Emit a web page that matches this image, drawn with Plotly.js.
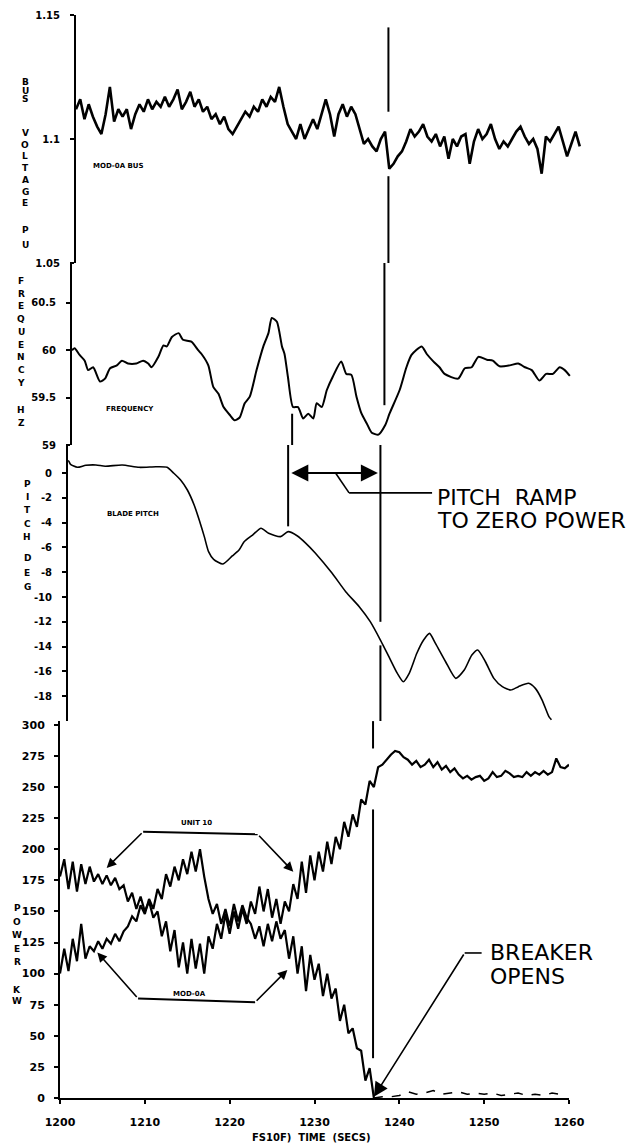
<!DOCTYPE html>
<html><head><meta charset="utf-8">
<script src="https://cdn.plot.ly/plotly-3.0.1.min.js"></script>
<style>html,body{margin:0;padding:0;background:#fff}</style>
</head><body><div id="chart" style="width:638px;height:1145px"></div>
<script>
// ================= DATA =================
// Bus voltage (PU), sampled every 0.5 s from 1200 s
const VOLT_T0 = 1200, VOLT_DT = 0.5;
const busVoltage = [
 1.112,1.116,1.108,1.114,1.109,1.105,1.102,1.110,1.121,1.107,
 1.112,1.109,1.112,1.104,1.110,1.114,1.111,1.116,1.112,1.115,
 1.113,1.117,1.113,1.116,1.120,1.112,1.115,1.119,1.113,1.116,
 1.111,1.113,1.108,1.110,1.106,1.109,1.104,1.102,1.105,1.108,
 1.111,1.109,1.113,1.111,1.116,1.113,1.117,1.115,1.121,1.113,
 1.106,1.103,1.100,1.106,1.100,1.104,1.108,1.104,1.110,1.116,
 1.110,1.101,1.110,1.114,1.109,1.113,1.110,1.104,1.098,1.100,
 1.097,1.095,1.100,1.103,1.088,1.090,1.093,1.095,1.099,1.104,
 1.101,1.103,1.106,1.101,1.099,1.102,1.097,1.101,1.092,1.100,
 1.097,1.101,1.102,1.090,1.099,1.104,1.100,1.102,1.106,1.100,
 1.096,1.099,1.097,1.100,1.103,1.105,1.101,1.098,1.100,1.096,
 1.086,1.101,1.099,1.102,1.105,1.099,1.093,1.098,1.103,1.097];

// Frequency (Hz)
const freqTime = [1200,1200.3,1200.9,1201.5,1201.9,1202.5,1203.3,1203.9,1204.5,1205.3,
 1205.9,1206.6,1207.6,1208.4,1209,1209.4,1210.2,1210.8,1211.2,1211.8,
 1212.6,1213.1,1214.1,1214.9,1215.3,1216.1,1216.7,1217.3,1217.9,1218.7,
 1219.2,1219.8,1220.4,1221,1221.8,1222.6,1223.2,1223.6,1224.2,1224.8,
 1225.1,1225.5,1226.1,1226.7,1227.3,1227.9,1228.5,1228.9,1229.5,1230.1,
 1230.8,1231.8,1232.4,1233,1233.6,1234.2,1234.8,1235.4,1236.2,1237,
 1237.5,1238.7,1239.5,1240.1,1241.3,1241.9,1242.7,1243.4,1244,1245.6,
 1246.4,1247.2,1248,1249,1249.7,1250.5,1251.7,1252.7,1253.5,1254.3,
 1255.2,1256,1256.8,1257.6,1258.2,1258.8];
const freqHz = [60.0,60.02,59.95,59.89,59.79,59.82,59.67,59.70,59.81,59.84,
 59.89,59.86,59.86,59.89,59.86,59.82,59.93,60.05,60.04,60.14,
 60.18,60.11,60.09,60.0,59.96,59.84,59.61,59.54,59.40,59.31,
 59.26,59.29,59.44,59.51,59.79,60.04,60.18,60.34,60.30,60.04,
 59.96,59.72,59.40,59.40,59.28,59.33,59.28,59.44,59.40,59.58,
 59.72,59.88,59.75,59.74,59.51,59.33,59.23,59.13,59.11,59.21,
 59.33,59.58,59.82,59.95,60.04,59.96,59.88,59.82,59.75,59.70,
 59.81,59.82,59.93,59.90,59.89,59.83,59.84,59.86,59.82,59.79,
 59.68,59.75,59.75,59.82,59.79,59.73];

// Blade pitch (deg)
const pitchTime = [1200,1200.1,1200.3,1201.1,1202.1,1203.3,1204.4,1206.4,1208.4,1210.4,
 1211.7,1212.5,1213.3,1214.1,1214.9,1215.5,1216.1,1216.6,1217.2,1218.3,
 1219.4,1220.2,1220.8,1221.8,1222.8,1223.7,1225.1,1226.0,1227.1,1228.1,
 1229.2,1231.2,1232.8,1234.4,1235.7,1236.9,1237.9,1238.9,1239.6,1240.3,
 1241.2,1242.0,1242.7,1243.4,1244.6,1245.8,1246.8,1247.7,1248.4,1249.3,
 1250.3,1251.3,1252.3,1253.2,1254.4,1255.2,1256.0,1256.8,1257.1];
const pitchDeg = [1.0,0.95,0.7,0.46,0.62,0.65,0.55,0.65,0.46,0.5,
 0.46,-0.02,-0.56,-1.37,-2.58,-3.79,-5.13,-6.34,-6.96,-7.34,
 -6.69,-6.21,-5.54,-5.0,-4.46,-4.86,-5.13,-4.73,-5.08,-5.67,
 -6.45,-8.09,-9.57,-10.78,-11.99,-13.47,-14.81,-16.16,-16.83,-16.16,
 -14.54,-13.47,-12.93,-13.74,-15.22,-16.56,-15.89,-14.68,-14.27,-15.22,
 -16.56,-17.23,-17.5,-17.23,-16.96,-17.37,-18.31,-19.65,-19.9];

// Power (kW), sampled every 0.5 s from 1200 s
const POWER_T0 = 1200, POWER_DT = 0.5;
const unit10Kw = [178,192,168,190,166,188,172,186,174,180,
 172,179,171,177,168,171,158,165,152,162,
 150,158,145,150,130,142,118,135,105,125,
 100,128,104,124,100,130,120,140,128,148,
 132,150,136,152,140,158,148,170,150,168,
 145,160,140,158,150,172,160,190,165,195,
 175,198,182,206,188,210,200,222,210,228,
 218,240,236,255,250,266,268,272,276,279,
 278,274,272,268,271,266,268,272,266,270,
 264,267,262,265,260,257,259,256,258,259,
 255,257,262,258,259,263,261,258,259,258,
 262,259,262,260,263,260,262,273,266,265,268];
const mod0aKw = [100,120,102,128,110,140,112,122,118,126,
 120,128,124,132,126,134,138,146,142,155,
 148,160,152,168,160,180,170,186,175,192,
 180,198,182,200,178,160,148,156,140,152,
 138,156,142,155,145,140,128,138,122,140,
 126,142,128,135,112,130,100,122,86,115,
 95,108,82,100,80,88,62,75,52,56,
 40,38,14,24,0];
const mod0aOpenTime = [1237,1238,1239,1240,1241,1242,1243,1244,1245,1246,1247,1248,1249,1250,1251,1252,1253,1254,1255,1256,1257,1258,1259];
const mod0aOpenKw   = [0,1,1,2,5,3,4,6,3,4,5,3,4,3,4,2,3,4,2,3,2,4,3];

// Axis ticks
const xTicks = [1200,1210,1220,1230,1240,1250,1260];
const xTickText = ['1200','1210','1220','1230','1240','1250','1260'];
const voltTicks = [1.05,1.1,1.15];
const voltTickText = ['1.05','1.1','1.15'];
const freqTicks = [59,59.5,60,60.5];
const freqTickText = ['59','59.5','60','60.5'];
const pitchTicks = [0,-2,-4,-6,-8,-10,-12,-14,-16,-18];
const pitchTickText = ['0','-2','-4','-6','-8','-10','-12','-14','-16','-18'];
const powerTicks = [0,25,50,75,100,125,150,175,200,225,250,275,300];
const powerTickText = powerTicks.map(String);

// Event times
const BREAKER_T = 1236.9;
const PITCH_RAMP_T = 1226.0;

// ================= BUILD =================
const grid = (t0, dt, n) => Array.from({length:n}, (_, i) => +(t0 + i*dt).toFixed(2));
const W = 638, H = 1145;
const px = v => v / W, py = v => 1 - v / H;
const FONT = 'DejaVu Sans';
const black = '#000';

const traces = [
  {x: grid(VOLT_T0, VOLT_DT, busVoltage.length), y: busVoltage, xaxis:'x', yaxis:'y', mode:'lines', line:{color:black, width:2.6}},
  {x: freqTime, y: freqHz, xaxis:'x2', yaxis:'y2', mode:'lines', line:{color:black, width:2, shape:'spline', smoothing:0.6}},
  {x: pitchTime, y: pitchDeg, xaxis:'x3', yaxis:'y3', mode:'lines', line:{color:black, width:1.6, shape:'spline', smoothing:0.6}},
  {x: grid(POWER_T0, POWER_DT, unit10Kw.length), y: unit10Kw, xaxis:'x4', yaxis:'y4', mode:'lines', line:{color:black, width:2.2}},
  {x: grid(POWER_T0, POWER_DT, mod0aKw.length), y: mod0aKw, xaxis:'x4', yaxis:'y4', mode:'lines', line:{color:black, width:2.2}},
  {x: mod0aOpenTime, y: mod0aOpenKw, xaxis:'x4', yaxis:'y4', mode:'lines', line:{color:black, width:1.5, dash:'dash'}}
];

const yBase = {showgrid:false, zeroline:false, showline:true, linecolor:black, linewidth:2,
  ticks:'outside', ticklen:4, tickwidth:2, tickcolor:black,
  tickfont:{family:FONT, size:10, color:black, weight:'bold'}, ticklabelstandoff:8, fixedrange:true};
const xHidden = {range:[1200,1260], visible:false, fixedrange:true};

const layout = {
  width: W, height: H, margin:{l:0,r:0,t:0,b:0},
  paper_bgcolor:'#fff', plot_bgcolor:'rgba(0,0,0,0)', showlegend:false,
  xaxis:  Object.assign({}, xHidden, {domain:[px(76), px(584)], anchor:'y'}),
  xaxis2: Object.assign({}, xHidden, {domain:[px(72), px(580)], anchor:'y2'}),
  xaxis3: Object.assign({}, xHidden, {domain:[px(68), px(576)], anchor:'y3'}),
  xaxis4: {domain:[px(60), px(569)], anchor:'y4', range:[1200,1260], showgrid:false, zeroline:false,
    showline:true, linecolor:black, linewidth:2, ticks:'outside', ticklen:4, tickwidth:2, tickcolor:black,
    tickvals:xTicks, ticktext:xTickText, tickfont:{family:FONT, size:11, color:black, weight:'bold'},
    ticklabelstandoff:9, fixedrange:true},
  yaxis:  Object.assign({}, yBase, {domain:[py(263), py(15)], range:[1.05, 1.15], anchor:'x', tickvals:voltTicks, ticktext:voltTickText}),
  yaxis2: Object.assign({}, yBase, {domain:[py(445), py(263)], range:[59, 60.92], anchor:'x2', tickvals:freqTicks, ticktext:freqTickText}),
  yaxis3: Object.assign({}, yBase, {domain:[py(721), py(445)], range:[-20, 2.26], anchor:'x3', tickvals:pitchTicks, ticktext:pitchTickText}),
  yaxis4: Object.assign({}, yBase, {domain:[py(1098), py(721)], range:[0, 303.1], anchor:'x4', tickvals:powerTicks, ticktext:powerTickText,
    tickfont:{family:FONT, size:11, color:black, weight:'bold'}, ticklabelstandoff:7}),
  shapes: [], annotations: []
};

const seg = (xr, yr, x0, y0, x1, y1, w) => ({type:'line', xref:xr, yref:yr, x0, y0, x1, y1, line:{color:black, width:w || 2}});

// Breaker-opening vertical line through all panels (with gaps at curves)
layout.shapes.push(
  seg('x','y', BREAKER_T, 1.145, BREAKER_T, 1.111),
  seg('x','y', BREAKER_T, 1.085, BREAKER_T, 1.05),
  seg('x2','y2', BREAKER_T, 60.92, BREAKER_T, 59.42),
  seg('x3','y3', BREAKER_T, 2.26, BREAKER_T, -12.0),
  seg('x3','y3', BREAKER_T, -13.9, BREAKER_T, -20),
  seg('x4','y4', BREAKER_T, 303, BREAKER_T, 281),
  seg('x4','y4', BREAKER_T, 232, BREAKER_T, 32)
);
// Pitch ramp start line
layout.shapes.push(
  seg('x2','y2', PITCH_RAMP_T, 59.33, PITCH_RAMP_T, 59.0),
  seg('x3','y3', PITCH_RAMP_T, 2.26, PITCH_RAMP_T, -4.3)
);
// Pitch ramp leader
layout.shapes.push(
  seg('x3','y3', 1231.6, 0, 1233.2, -1.6, 1.6),
  seg('x3','y3', 1233.2, -1.6, 1243.0, -1.6, 1.6)
);
// Breaker leader horizontal
layout.shapes.push(seg('x4','y4', 1247.7, 116.6, 1249.7, 116.6, 1.6));
// Brackets
layout.shapes.push(
  seg('x4','y4', 1209.8, 214, 1223.3, 212, 2),
  seg('x4','y4', 1209.2, 80, 1223.0, 77, 2)
);

const arrow = (xr, yr, x, y, ax, ay, size, extra) => Object.assign({
  xref:xr, yref:yr, axref:xr, ayref:yr, x, y, ax, ay, text:'', showarrow:true,
  arrowhead:2, arrowsize:size, arrowwidth:1.6, arrowcolor:black}, extra || {});

layout.annotations.push(
  arrow('x3','y3', BREAKER_T - 0.3, 0, PITCH_RAMP_T + 0.2, 0, 1.7, {arrowside:'end+start', startarrowhead:2, startarrowsize:1.7, arrowwidth:2}),
  arrow('x4','y4', 1237.0, 1, 1247.7, 116.6, 1.8),
  arrow('x4','y4', 1205.5, 185, 1209.8, 214, 1.2),
  arrow('x4','y4', 1227.5, 182, 1223.3, 212, 1.2),
  arrow('x4','y4', 1204.4, 117, 1209.2, 80, 1.2),
  arrow('x4','y4', 1226.8, 103, 1223.0, 77, 1.2)
);

const txt = (xr, yr, x, y, text, size, extra) => Object.assign({
  xref:xr, yref:yr, x, y, text, showarrow:false, xanchor:'center', yanchor:'middle',
  font:{family:FONT, size:size, color:black}}, extra || {});
const bold = s => ({family:FONT, size:s, color:black, weight:'bold'});

layout.annotations.push(
  txt('x3','y3', 1243.4, -1.94, 'PITCH&nbsp;&nbsp;RAMP', 22, {xanchor:'left'}),
  txt('x3','y3', 1243.4, -3.79, 'TO ZERO POWER', 22, {xanchor:'left'}),
  txt('x4','y4', 1250.4, 116.6, 'BREAKER', 22, {xanchor:'left'}),
  txt('x4','y4', 1250.4, 97.3, 'OPENS', 22, {xanchor:'left'}),
  txt('x','y', 1205.0, 1.0891, 'MOD-0A BUS', 7, {font:bold(7)}),
  txt('x2','y2', 1206.8, 59.38, 'FREQUENCY', 7, {font:bold(7)}),
  txt('x3','y3', 1207.7, -3.3, 'BLADE PITCH', 7, {font:bold(7)}),
  txt('x4','y4', 1216.1, 221, 'UNIT 10', 7, {font:bold(7)}),
  txt('x4','y4', 1215.3, 84, 'MOD-0A', 7, {font:bold(7)}),
  txt('paper','paper', px(311), py(1137), 'FS10F)&nbsp; TIME&nbsp; (SECS)', 10, {font:bold(10)})
);

// Stacked vertical axis titles (one upright letter per row)
function stack(word, xPx, y0Px, step) {
  [...word].forEach((ch, i) => {
    layout.annotations.push({xref:'paper', yref:'paper', x:px(xPx), y:py(y0Px + i*step), text:ch, showarrow:false,
      xanchor:'center', yanchor:'middle', font:bold(9)});
  });
}
stack('BUS', 25, 82, 8.5);
stack('VOLTAGE', 25, 133, 11.7);
stack('PU', 25, 230, 15);
stack('FREQUENCY', 21, 281, 12.7);
stack('HZ', 21, 410, 13);
stack('PITCH', 27, 484, 13.2);
stack('DEG', 27, 558, 14.5);
stack('POWER', 17, 908, 13.5);
stack('KW', 17, 990, 11);

Plotly.newPlot('chart', traces, layout, {displayModeBar:false, staticPlot:true});
</script>
</body></html>
